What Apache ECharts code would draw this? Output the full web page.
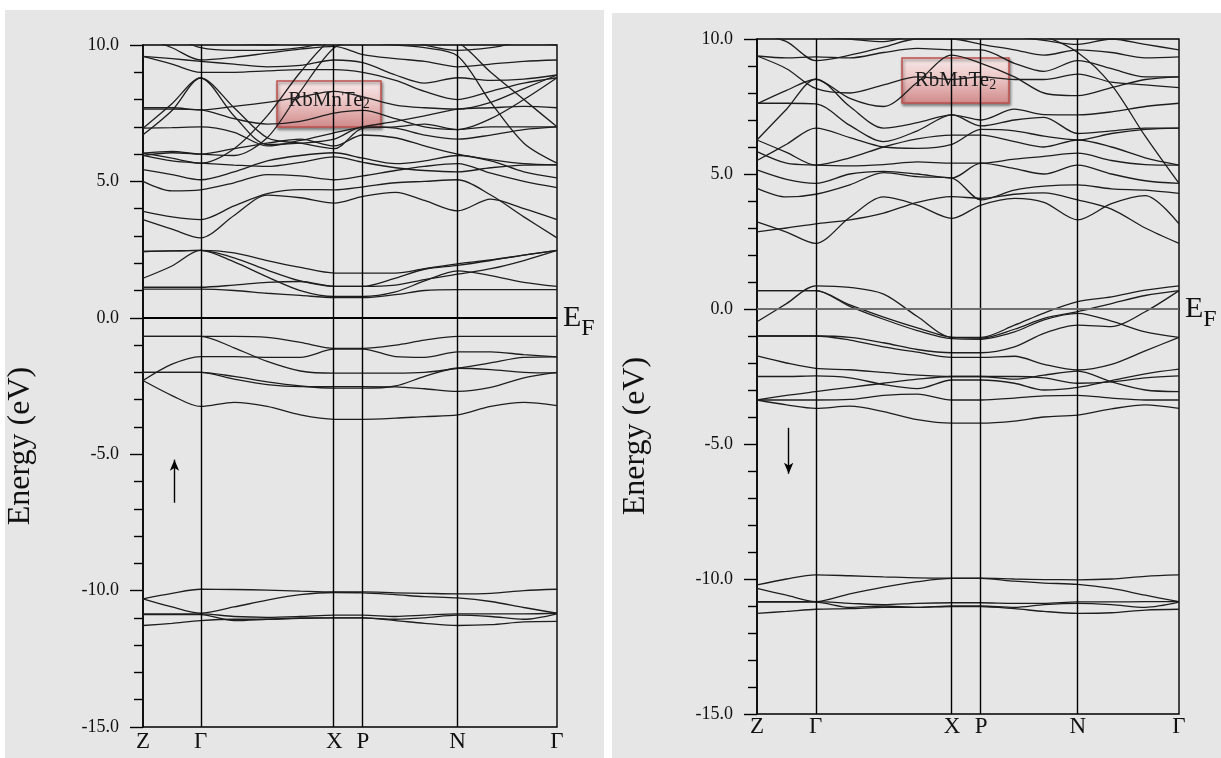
<!DOCTYPE html>
<html>
<head>
<meta charset="utf-8">
<script src="https://cdn.jsdelivr.net/npm/echarts@6/dist/echarts.min.js"></script>
<style>
  html, body { margin: 0; padding: 0; background: #fff; }
  #wrap { position: relative; width: 1221px; height: 758px; overflow: hidden; }
  .panel { position: absolute; background: #e6e6e6; }
  #chart { position: absolute; left: 0; top: 0; width: 1221px; height: 758px; }
</style>
</head>
<body>
<div id="wrap">
  <div class="panel" style="left:5px;top:10px;width:599px;height:748px"></div>
  <div class="panel" style="left:612px;top:13px;width:609px;height:745px"></div>
  <div id="chart"></div>
</div>
<script>
// k-path sampling (fraction of total path length) shared by every band
const K = [0, 0.07, 0.139, 0.22, 0.30, 0.38, 0.462, 0.531, 0.61, 0.68, 0.76, 0.84, 0.92, 1.0];
// high-symmetry points along the path
const K_POINTS = [0, 0.139, 0.462, 0.531, 0.76, 1.0];
const K_LABELS = ['Z', 'Γ', 'X', 'P', 'N', 'Γ'];
const E_MIN = -15, E_MAX = 10, E_STEP = 5;

// ---- spin up (majority) bands, eV ----
const UP_DEEP = [
  [-10.30, -10.10, -9.95, -9.96, -9.98, -10.02, -10.05, -10.05, -10.08, -10.10, -10.12, -10.10, -10.00, -9.95],
  [-10.30, -10.60, -10.83, -10.60, -10.35, -10.15, -10.07, -10.08, -10.15, -10.22, -10.27, -10.40, -10.62, -10.83],
  [-10.85, -10.85, -10.85, -10.95, -10.98, -10.95, -10.90, -10.90, -10.95, -10.90, -10.85, -10.85, -10.85, -10.83],
  [-10.88, -10.88, -10.88, -11.10, -11.05, -11.00, -11.00, -11.00, -11.05, -11.00, -10.90, -10.95, -11.05, -10.85],
  [-11.28, -11.20, -11.10, -11.05, -11.05, -11.02, -11.00, -11.00, -11.10, -11.20, -11.28, -11.25, -11.15, -11.13]
];
const UP_VALENCE = [
  [-0.68, -0.68, -0.68, -0.68, -0.72, -0.90, -1.12, -1.12, -1.00, -0.82, -0.68, -0.68, -0.68, -0.68],
  [-0.68, -0.68, -0.68, -1.10, -1.60, -1.95, -2.03, -2.03, -2.03, -2.00, -1.85, -1.65, -1.45, -1.43],
  [-2.30, -1.70, -1.42, -1.42, -1.45, -1.45, -1.15, -1.15, -1.42, -1.45, -1.25, -1.25, -1.35, -1.43],
  [-2.00, -2.00, -2.00, -2.25, -2.45, -2.52, -2.52, -2.52, -2.53, -2.60, -2.70, -2.55, -2.20, -2.00],
  [-2.00, -2.00, -2.00, -2.15, -2.35, -2.50, -2.58, -2.58, -2.50, -2.15, -1.85, -1.90, -2.00, -2.02],
  [-2.30, -2.85, -3.25, -3.10, -3.25, -3.56, -3.72, -3.72, -3.68, -3.62, -3.56, -3.25, -3.10, -3.22]
];
const UP_CONDUCTION = [
  [1.05, 1.05, 1.05, 1.00, 0.90, 0.82, 0.74, 0.74, 0.85, 1.00, 1.03, 1.03, 1.03, 1.03],
  [1.12, 1.12, 1.12, 1.20, 1.30, 1.33, 1.15, 1.15, 1.20, 1.40, 1.60, 1.80, 2.10, 2.47],
  [2.43, 2.45, 2.47, 2.05, 1.50, 1.00, 0.78, 0.78, 0.95, 1.35, 1.72, 1.55, 1.30, 1.15],
  [1.45, 1.90, 2.47, 2.20, 1.75, 1.35, 1.15, 1.15, 1.45, 1.78, 1.92, 2.10, 2.30, 2.47],
  [2.43, 2.45, 2.47, 2.38, 2.10, 1.85, 1.64, 1.64, 1.64, 1.80, 1.98, 2.12, 2.30, 2.47],
  [3.60, 3.25, 2.93, 3.75, 4.50, 4.40, 4.20, 4.45, 4.60, 4.30, 3.92, 4.35, 4.00, 3.60],
  [3.90, 3.70, 3.60, 4.10, 4.55, 4.70, 4.69, 4.80, 4.95, 5.00, 5.06, 4.50, 3.70, 2.93],
  [5.00, 4.65, 4.69, 4.95, 5.25, 5.20, 5.06, 5.20, 5.40, 5.55, 5.65, 5.30, 5.00, 4.77],
  [5.43, 5.25, 5.06, 5.35, 5.75, 5.95, 6.05, 5.85, 5.65, 5.75, 5.95, 5.75, 5.35, 5.13],
  [5.95, 5.75, 5.67, 5.60, 5.55, 5.70, 5.90, 5.70, 5.50, 5.40, 5.35, 5.50, 5.60, 5.61],
  [6.04, 6.10, 6.00, 6.20, 6.40, 6.55, 6.30, 6.70, 6.60, 6.30, 6.00, 5.80, 5.65, 5.61],
  [6.71, 7.60, 8.79, 7.40, 6.35, 6.40, 6.55, 7.00, 6.95, 6.70, 6.55, 6.70, 6.90, 7.00],
  [6.95, 7.85, 8.79, 7.70, 6.60, 6.40, 6.20, 6.95, 7.00, 7.10, 6.90, 7.00, 7.00, 7.00],
  [6.95, 6.97, 7.00, 6.80, 6.30, 6.50, 6.78, 7.00, 7.20, 7.40, 7.65, 7.70, 7.75, 7.70],
  [7.65, 7.65, 7.62, 7.30, 7.10, 7.20, 7.50, 7.60, 7.30, 7.00, 6.90, 7.30, 8.00, 8.80],
  [7.70, 7.70, 7.62, 7.75, 7.90, 8.10, 8.30, 8.10, 7.80, 7.70, 7.65, 7.90, 8.40, 8.90],
  [6.04, 5.85, 5.67, 6.20, 7.40, 9.00, 10.3, 10.5, 10.5, 10.4, 10.2, 10.4, 10.5, 10.5],
  [5.95, 6.05, 6.00, 5.95, 6.60, 8.30, 9.90, 10.2, 10.3, 10.0, 9.80, 9.90, 10.1, 10.0],
  [9.58, 9.30, 9.00, 9.00, 9.05, 9.10, 9.10, 9.00, 8.70, 8.30, 8.00, 8.30, 8.60, 8.80],
  [9.58, 9.50, 9.40, 9.30, 9.20, 9.25, 9.45, 9.35, 8.90, 8.60, 8.80, 8.70, 8.75, 8.90],
  [10.3, 9.90, 9.45, 9.55, 9.70, 9.85, 9.95, 9.65, 9.50, 9.40, 9.20, 9.30, 9.40, 9.45],
  [10.5, 10.3, 9.90, 9.80, 9.80, 9.90, 10.1, 10.1, 10.0, 9.90, 9.60, 7.90, 6.40, 5.67],
  [10.6, 10.5, 10.3, 10.1, 10.0, 10.2, 10.4, 10.2, 10.1, 10.3, 10.1, 9.00, 8.00, 7.00]
];

// ---- spin down (minority) bands, eV ----
const DN_DEEP = [
  [-10.22, -10.00, -9.85, -9.88, -9.92, -9.96, -9.97, -9.97, -10.00, -10.02, -10.03, -10.00, -9.90, -9.85],
  [-10.35, -10.60, -10.84, -10.55, -10.30, -10.10, -9.98, -9.98, -10.08, -10.15, -10.20, -10.35, -10.60, -10.84],
  [-10.84, -10.84, -10.84, -10.90, -10.95, -10.90, -10.88, -10.88, -10.90, -10.90, -10.85, -10.85, -10.84, -10.84],
  [-10.86, -10.86, -10.86, -11.05, -11.00, -11.05, -11.00, -11.00, -11.05, -10.95, -10.90, -10.95, -11.05, -10.86],
  [-11.27, -11.20, -11.12, -11.10, -11.05, -11.05, -11.02, -11.02, -11.10, -11.20, -11.27, -11.25, -11.15, -11.12]
];
const DN_VALENCE = [
  [-0.47, 0.20, 0.86, 0.80, 0.55, -0.28, -1.05, -1.05, -0.60, -0.15, 0.27, 0.45, 0.70, 0.86],
  [0.68, 0.68, 0.68, 0.15, -0.30, -0.70, -1.05, -1.08, -0.75, -0.35, -0.10, 0.20, 0.50, 0.68],
  [0.68, 0.68, 0.68, 0.10, -0.38, -0.80, -1.10, -1.12, -0.85, -0.40, -0.16, -0.45, -0.85, -1.05],
  [-1.00, -1.00, -1.00, -1.05, -1.25, -1.50, -1.62, -1.62, -1.40, -0.90, -0.60, -0.65, -0.10, 0.68],
  [-1.00, -1.00, -1.00, -1.15, -1.40, -1.60, -1.79, -1.79, -1.75, -2.05, -2.26, -2.05, -1.55, -1.05],
  [-1.74, -2.00, -2.20, -2.25, -2.35, -2.45, -2.50, -2.50, -2.50, -2.55, -2.75, -2.70, -2.55, -2.48],
  [-2.50, -2.50, -2.48, -2.55, -2.80, -2.95, -2.63, -2.63, -2.75, -3.00, -2.90, -2.65, -2.40, -2.23],
  [-3.37, -3.20, -3.06, -2.90, -2.75, -2.60, -2.50, -2.50, -2.60, -2.45, -2.30, -2.70, -3.00, -3.06],
  [-3.37, -3.37, -3.37, -3.35, -3.20, -3.15, -3.37, -3.37, -3.30, -3.22, -3.20, -3.30, -3.37, -3.37],
  [-3.37, -3.55, -3.68, -3.60, -3.80, -4.10, -4.23, -4.23, -4.15, -4.00, -3.93, -3.70, -3.55, -3.68]
];
const DN_CONDUCTION = [
  [3.23, 2.85, 2.43, 3.40, 4.15, 3.85, 3.36, 3.85, 4.10, 3.95, 3.30, 3.90, 4.20, 3.15],
  [2.86, 3.00, 3.15, 3.30, 3.55, 3.95, 4.16, 4.10, 4.25, 4.30, 4.04, 3.70, 3.00, 2.43],
  [4.47, 4.15, 4.25, 4.60, 5.05, 4.90, 4.85, 4.04, 4.40, 4.55, 4.60, 4.45, 4.40, 4.28],
  [5.15, 4.80, 4.65, 5.00, 5.10, 5.00, 4.85, 5.40, 5.20, 5.00, 5.33, 5.00, 4.75, 4.65],
  [5.83, 5.40, 5.33, 5.30, 5.35, 5.45, 5.40, 5.40, 5.55, 5.65, 5.77, 5.50, 5.35, 5.33],
  [6.26, 5.80, 5.33, 5.60, 6.00, 6.30, 6.44, 6.44, 6.20, 6.00, 6.26, 6.00, 5.60, 5.33],
  [5.50, 6.10, 6.70, 6.35, 6.00, 5.95, 6.10, 6.65, 6.60, 6.40, 6.26, 6.50, 6.65, 6.70],
  [7.62, 7.62, 7.60, 6.80, 6.20, 6.60, 7.19, 6.78, 7.00, 7.10, 6.50, 6.60, 6.70, 6.70],
  [7.60, 8.10, 8.51, 7.50, 6.70, 6.90, 7.19, 7.00, 7.40, 7.20, 7.19, 7.30, 7.50, 7.62],
  [6.26, 7.40, 8.51, 7.80, 7.50, 8.40, 9.40, 9.10, 8.60, 8.00, 7.90, 8.20, 8.50, 8.60],
  [9.37, 8.90, 8.17, 8.00, 8.30, 8.60, 8.50, 8.60, 8.50, 8.50, 8.70, 8.40, 8.30, 8.20],
  [9.37, 9.30, 9.34, 9.30, 9.50, 9.65, 9.60, 9.60, 9.10, 8.80, 9.20, 8.90, 8.60, 8.60],
  [10.2, 9.90, 9.20, 9.40, 9.70, 10.0, 10.0, 9.80, 9.60, 9.40, 9.60, 9.50, 9.30, 9.34],
  [10.4, 10.3, 10.1, 10.0, 9.90, 10.2, 10.4, 10.3, 10.1, 9.95, 9.80, 10.0, 9.80, 9.60],
  [10.6, 10.5, 10.4, 10.3, 10.2, 10.4, 10.6, 10.5, 10.3, 10.1, 9.50, 8.30, 6.40, 4.65]
];

// spin arrows: k position and energy span (tail -> head)
const ARROW_UP = { k: 0.076, from: -6.78, to: -5.2 };
const ARROW_DOWN = { k: 0.075, from: -4.4, to: -6.1 };

const SERIF = "'Liberation Serif', 'Times New Roman', serif";
const chart = echarts.init(document.getElementById('chart'), null, { renderer: 'canvas' });

function bandSeries(bands, idx) {
  return bands.map(b => ({
    type: 'line',
    xAxisIndex: idx, yAxisIndex: idx,
    data: K.map((k, i) => [k, b[i]]),
    symbol: 'none',
    smooth: 0.3,
    silent: true,
    animation: false,
    lineStyle: { color: '#1e1e1e', width: 1.3 },
    z: 3
  }));
}

function guideSeries(idx, efColor, efWidth, arrow) {
  return {
    type: 'line', xAxisIndex: idx, yAxisIndex: idx, data: [], silent: true, animation: false,
    markLine: {
      silent: true, animation: false, symbol: 'none',
      label: { show: false },
      lineStyle: { color: '#000', width: 1.4, type: 'solid' },
      data: [
        ...K_POINTS.slice(1, -1).map(k => ({ xAxis: k })),
        {
          yAxis: 0,
          lineStyle: { color: efColor, width: efWidth, type: 'solid' },
          label: {
            show: true, position: 'end', distance: 6,
            formatter: '{e|E}{f|F}',
            rich: {
              e: { fontFamily: SERIF, fontSize: 30, color: '#111' },
              f: { fontFamily: SERIF, fontSize: 24, color: '#111', padding: [21, 0, 0, 0] }
            }
          }
        },
        [
          { coord: [arrow.k, arrow.from], symbol: 'none' },
          { coord: [arrow.k, arrow.to], symbol: 'arrow', symbolSize: [7, 11] }
        ]
      ]
    }
  };
}

function yAxisFor(idx) {
  return {
    gridIndex: idx, type: 'value', min: E_MIN, max: E_MAX, interval: E_STEP,
    axisLine: { show: true, lineStyle: { color: '#000', width: 1.5 } },
    axisTick: { show: true, length: 13, lineStyle: { color: '#000', width: 1.4 } },
    minorTick: { show: true, splitNumber: 5, length: 9, lineStyle: { color: '#000', width: 1.4 } },
    splitLine: { show: false },
    axisLabel: {
      formatter: v => v.toFixed(1), fontFamily: SERIF, fontSize: 18, color: '#111', margin: 24
    }
  };
}

function xAxisFor(idx, margin) {
  return {
    gridIndex: idx, type: 'value', min: 0, max: 1,
    axisLine: { show: true, lineStyle: { color: '#000', width: 1.5 } },
    axisTick: { show: false },
    splitLine: { show: false },
    axisLabel: {
      customValues: K_POINTS,
      formatter: v => K_LABELS[K_POINTS.indexOf(v)],
      fontFamily: SERIF, fontSize: 23, color: '#111', margin: margin,
      hideOverlap: false
    }
  };
}

function titleBox(x, y, w, h, dy) {
  return {
    type: 'group', x: x, y: y, z: 50,
    children: [
      {
        type: 'rect', shape: { x: 0, y: 0, width: w, height: h },
        style: {
          fill: new echarts.graphic.LinearGradient(0, 0, 0, 1, [
            { offset: 0, color: '#f8eaea' },
            { offset: 0.45, color: '#ecc6c6' },
            { offset: 1, color: '#d08a8a' }
          ]),
          stroke: '#c0504d', lineWidth: 1.5,
          shadowBlur: 3, shadowOffsetX: 1, shadowOffsetY: 2, shadowColor: 'rgba(0,0,0,0.45)'
        }
      },
      {
        type: 'text', x: w / 2, y: h / 2 + dy,
        style: {
          text: 'RbMnTe{s|2}', align: 'center', verticalAlign: 'middle',
          font: '21px ' + SERIF, fill: '#1a1a1a',
          rich: { s: { fontSize: 14, fontFamily: SERIF, fill: '#1a1a1a', padding: [9, 0, 0, 0] } }
        }
      }
    ]
  };
}

function axisTitle(x, y) {
  return {
    type: 'text', x: x, y: y, rotation: Math.PI / 2, z: 50,
    style: {
      text: 'Energy (eV)', align: 'center', verticalAlign: 'middle',
      font: '32px ' + SERIF, fill: '#111'
    }
  };
}

chart.setOption({
  animation: false,
  grid: [
    { left: 143, top: 45, width: 414, height: 682, show: true, borderColor: '#000', borderWidth: 1.4, backgroundColor: 'transparent' },
    { left: 757, top: 39, width: 422, height: 675, show: true, borderColor: '#000', borderWidth: 1.4, backgroundColor: 'transparent' }
  ],
  xAxis: [xAxisFor(0, 3), xAxisFor(1, 1)],
  yAxis: [yAxisFor(0), yAxisFor(1)],
  series: [
    ...bandSeries(UP_DEEP, 0), ...bandSeries(UP_VALENCE, 0), ...bandSeries(UP_CONDUCTION, 0),
    ...bandSeries(DN_DEEP, 1), ...bandSeries(DN_VALENCE, 1), ...bandSeries(DN_CONDUCTION, 1),
    guideSeries(0, '#000', 2, ARROW_UP),
    guideSeries(1, '#808080', 1.5, ARROW_DOWN)
  ],
  graphic: [
    titleBox(277, 81, 104, 46, -4),
    titleBox(902, 58, 107, 45, 0),
    axisTitle(21, 446),
    axisTitle(636, 436)
  ]
});
</script>
</body>
</html>
